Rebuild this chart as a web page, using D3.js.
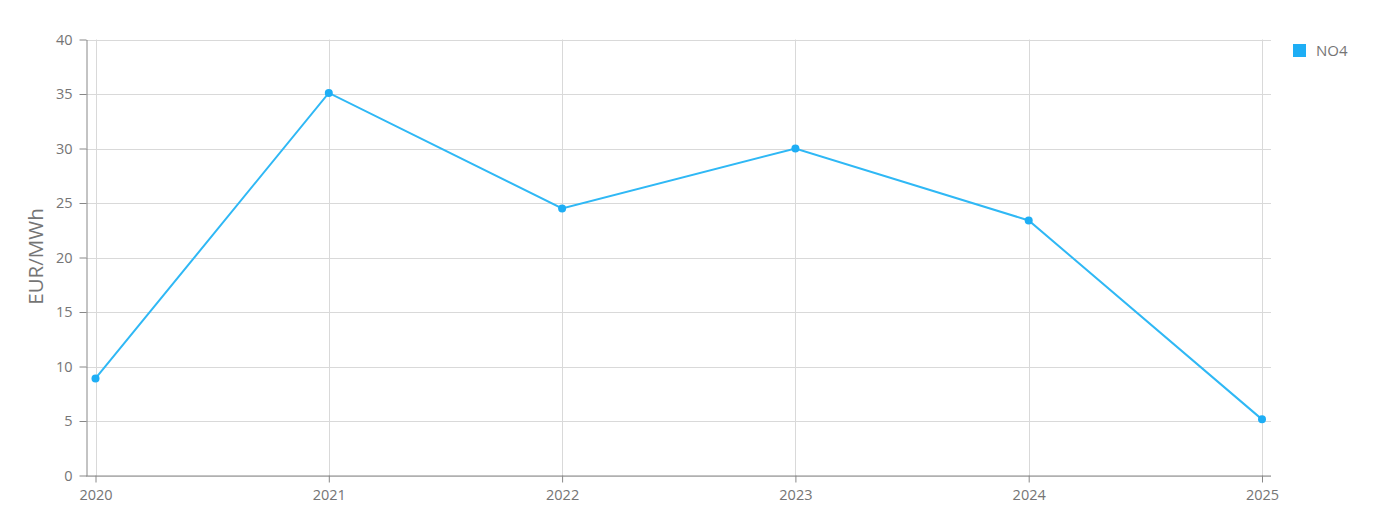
<!DOCTYPE html>
<html><head><meta charset="utf-8">
<script src="https://cdn.jsdelivr.net/npm/d3@7"></script>
<style>
body{margin:0;background:#fff;font-family:"Open Sans",sans-serif;}
svg text{font-family:"Open Sans",sans-serif;}
</style></head>
<body><svg id="c" width="1378" height="517"></svg>
<script>
const years = [2020, 2021, 2022, 2023, 2024, 2025];
const values = [8.9, 35.1, 24.5, 30.0, 23.4, 5.15];
const yTicks = [0, 5, 10, 15, 20, 25, 30, 35, 40];
const seriesName = "NO4";
const yLabel = "EUR/MWh";

(function(){
const svg = d3.select("#c");
const pL = 86, pR = 1271, pT = 39.5, pB = 475.5;
const pad = 9.5;
const x = d3.scaleLinear().domain([2020, 2025]).range([pL + pad, pR - 9]);
const y = d3.scaleLinear().domain([0, 40]).range([pB, pT]);
const grid = "#d9d9d9", axisC = "#888", textC = "#757575";
const lineC = "#2fb8f5", ptC = "#1eaef5";

svg.append("g").selectAll("line").data(yTicks).join("line")
  .attr("x1", pL).attr("x2", pR)
  .attr("y1", d => Math.round(y(d)) + 0.5).attr("y2", d => Math.round(y(d)) + 0.5)
  .attr("stroke", grid).attr("stroke-width", 1);
svg.append("g").selectAll("line").data(years).join("line")
  .attr("x1", d => Math.round(x(d)) + 0.5).attr("x2", d => Math.round(x(d)) + 0.5)
  .attr("y1", pT).attr("y2", pB)
  .attr("stroke", grid).attr("stroke-width", 1);

const yAxis = svg.append("g").attr("transform", `translate(${pL + 0.5},0)`)
  .call(d3.axisLeft(y).tickValues(yTicks).tickSize(7).tickPadding(7).tickSizeOuter(0));
yAxis.select(".domain").attr("stroke", axisC);
yAxis.selectAll(".tick line").attr("stroke", axisC);
yAxis.selectAll(".tick text").attr("fill", textC).style("font-size", "14.5px");

const xAxis = svg.append("g").attr("transform", `translate(0,${pB})`)
  .call(d3.axisBottom(x).tickValues(years).tickFormat(d3.format("d")).tickSize(7).tickPadding(7).tickSizeOuter(0));
xAxis.select(".domain").attr("d", `M${pL},0.5H${pR}`).attr("stroke", axisC);
xAxis.selectAll(".tick line").attr("stroke", axisC);
xAxis.selectAll(".tick text").attr("fill", textC).style("font-size", "14.5px");

svg.append("text").attr("transform", `translate(43,${(pT + pB) / 2 - 1}) rotate(-90)`)
  .attr("text-anchor", "middle").attr("fill", textC).style("font-size", "20.5px").text(yLabel);

const data = years.map((d, i) => ({x: d, y: values[i]}));
svg.append("path").datum(data)
  .attr("d", d3.line().x(d => x(d.x)).y(d => y(d.y)))
  .attr("fill", "none").attr("stroke", lineC).attr("stroke-width", 2);
svg.append("g").selectAll("circle").data(data).join("circle")
  .attr("cx", d => x(d.x)).attr("cy", d => y(d.y)).attr("r", 4).attr("fill", ptC);

const lg = svg.append("g").attr("transform", "translate(1293,44)");
lg.append("rect").attr("width", 13).attr("height", 13).attr("fill", ptC);
lg.append("text").attr("x", 23).attr("y", 12).attr("fill", textC).style("font-size", "15px").text(seriesName);
})();
</script></body></html>
